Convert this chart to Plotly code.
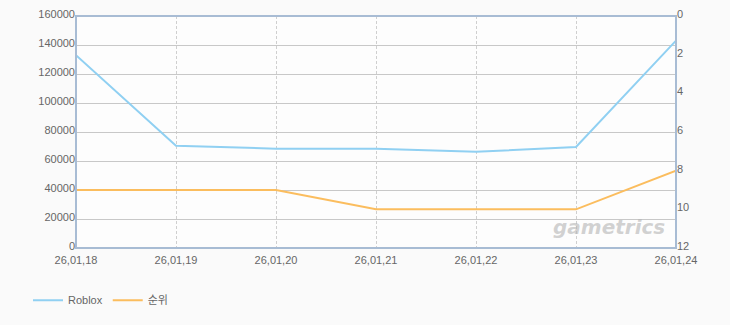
import plotly.graph_objects as go

dates = ["26,01,18", "26,01,19", "26,01,20", "26,01,21", "26,01,22", "26,01,23", "26,01,24"]
roblox = [133000, 70500, 68500, 68500, 66300, 69700, 143000]
rank = [9, 9, 9, 10, 10, 10, 8]

font = "Liberation Sans, Noto Sans CJK KR, sans-serif"
tf = dict(size=11, color="#666666", family=font)
fig = go.Figure()
fig.add_trace(go.Scatter(x=dates, y=roblox, name="Roblox", mode="lines",
                         line=dict(color="#90d0f2", width=2)))
fig.add_trace(go.Scatter(x=dates, y=rank, name="순위", mode="lines", yaxis="y2",
                         line=dict(color="#fbbd5e", width=2)))

fig.update_layout(
    width=730, height=325,
    margin=dict(l=76, r=54, t=16, b=77, autoexpand=False),
    paper_bgcolor="#fafafa", plot_bgcolor="#fdfdfd",
    font=dict(family=font, size=11, color="#666666"),
    showlegend=True,
    legend=dict(orientation="h", x=-0.08, xanchor="left", y=-0.225, yanchor="middle",
                font=dict(size=11, color="#666666", family=font), bgcolor="rgba(0,0,0,0)",
                itemwidth=30),
    xaxis=dict(type="category", range=[0, 6], showgrid=True, gridcolor="#cfcfcf",
               griddash="3px,2px", gridwidth=1, showline=False, automargin=False,
               ticks="", ticklabelstandoff=4, tickfont=tf, zeroline=False),
    yaxis=dict(range=[0, 160000], dtick=20000, showgrid=True, gridcolor="#c8c8c8",
               gridwidth=1, showline=False, zeroline=False, ticks="", automargin=False,
               tickformat="d", ticklabelshift=-2, tickfont=tf),
    yaxis2=dict(range=[12, 0], dtick=2, overlaying="y", side="right", showgrid=False,
                zeroline=False, showline=False, ticks="", automargin=False,
                ticklabelshift=2, tickfont=tf),
)
fig.add_shape(type="rect", xref="paper", yref="paper", x0=0, x1=1, y0=0, y1=1,
              line=dict(color="#a8bcd4", width=2), layer="above")
fig.add_annotation(text="<b><i>gametrics</i></b>", xref="paper", yref="paper",
                   x=0.985, y=0.03, xanchor="right", yanchor="bottom", showarrow=False,
                   font=dict(size=20, color="rgba(180,180,180,0.6)", family="DejaVu Sans"))
fig.write_html("out.html")
